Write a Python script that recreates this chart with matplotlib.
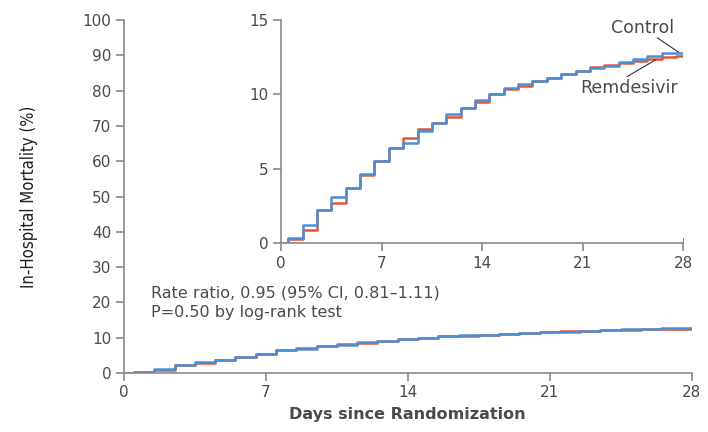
import numpy as np
import matplotlib.pyplot as plt

# step times (days) and cumulative in-hospital mortality (%)
days = [0, 0.5, 1.5, 2.5, 3.5, 4.5, 5.5, 6.5, 7.5, 8.5, 9.5, 10.5, 11.5, 12.5,
        13.5, 14.5, 15.5, 16.5, 17.5, 18.5, 19.5, 20.5, 21.5, 22.5, 23.5,
        24.5, 25.5, 26.5, 27.5, 28]
control = [0.0, 0.33, 1.2, 2.2, 3.1, 3.7, 4.65, 5.5, 6.4, 6.7, 7.55, 8.05,
           8.7, 9.05, 9.6, 10.0, 10.4, 10.7, 10.9, 11.1, 11.35, 11.55, 11.75,
           11.9, 12.2, 12.4, 12.55, 12.75, 12.8, 12.8]
remdesivir = [0.0, 0.3, 0.9, 2.2, 2.7, 3.7, 4.55, 5.5, 6.4, 7.05, 7.65, 8.1,
              8.45, 9.05, 9.5, 10.0, 10.35, 10.55, 10.9, 11.1, 11.35, 11.6,
              11.85, 12.0, 12.1, 12.25, 12.35, 12.5, 12.55, 12.55]

x_ticks = [0, 7, 14, 21, 28]
main_y_ticks = list(range(0, 101, 10))
inset_y_ticks = [0, 5, 10, 15]

BLUE = "#4a8fd6"
RED = "#e0553a"
AXIS = "#8a8a8a"
TEXT = "#4a4a4a"


def style_axes(ax):
    for side in ("top", "right"):
        ax.spines[side].set_visible(False)
    for side in ("left", "bottom"):
        ax.spines[side].set_color(AXIS)
        ax.spines[side].set_linewidth(1.2)
    ax.tick_params(direction="out", length=6, width=1.2, color=AXIS,
                   labelcolor=TEXT, labelsize=11, pad=3)


fig = plt.figure(figsize=(7.08, 4.32), dpi=100)

ax = fig.add_axes([0.175, 0.1366, 0.802, 0.817])
ax.step(days, remdesivir, where="post", color=RED, lw=1.8)
ax.step(days, control, where="post", color=BLUE, lw=1.8)
ax.set_xlim(0, 28)
ax.set_ylim(0, 100)
ax.set_xticks(x_ticks)
ax.set_yticks(main_y_ticks)
style_axes(ax)
ax.set_xlabel("Days since Randomization", fontsize=11.5, fontweight="bold",
              color=TEXT, labelpad=5)
ax.set_ylabel("In-Hospital Mortality (%)", fontsize=12, color="#1e1e1e",
              fontstretch="condensed", fontweight="medium", labelpad=32)
ax.text(1.35, 22.7, "Rate ratio, 0.95 (95% CI, 0.81\u20131.11)", fontsize=11.5,
        color=TEXT, va="center")
ax.text(1.35, 17.0, "P=0.50 by log-rank test", fontsize=11.5, color=TEXT,
        va="center")
ax.patch.set_alpha(0)

ins = fig.add_axes([0.397, 0.4375, 0.568, 0.5162])
ins.step(days, remdesivir, where="post", color=RED, lw=1.8)
ins.step(days, control, where="post", color=BLUE, lw=1.8)
ins.set_xlim(0, 28)
ins.set_ylim(0, 15)
ins.set_xticks(x_ticks)
ins.set_yticks(inset_y_ticks)
style_axes(ins)
ins.spines["right"].set_visible(True)
ins.spines["right"].set_color(AXIS)
ins.spines["right"].set_bounds(0, 0.35)

# curve labels with leader lines
ins.text(25.2, 14.45, "Control", fontsize=12.5, color=TEXT, ha="center",
         va="center")
ins.plot([26.2, 27.65], [13.8, 12.85], color="#333333", lw=0.8)
ins.text(24.2, 10.4, "Remdesivir", fontsize=12.5, color=TEXT, ha="center",
         va="center")
ins.plot([24.1, 26.05], [11.2, 12.3], color="#333333", lw=0.8)

fig.savefig("out.png", dpi=100)
